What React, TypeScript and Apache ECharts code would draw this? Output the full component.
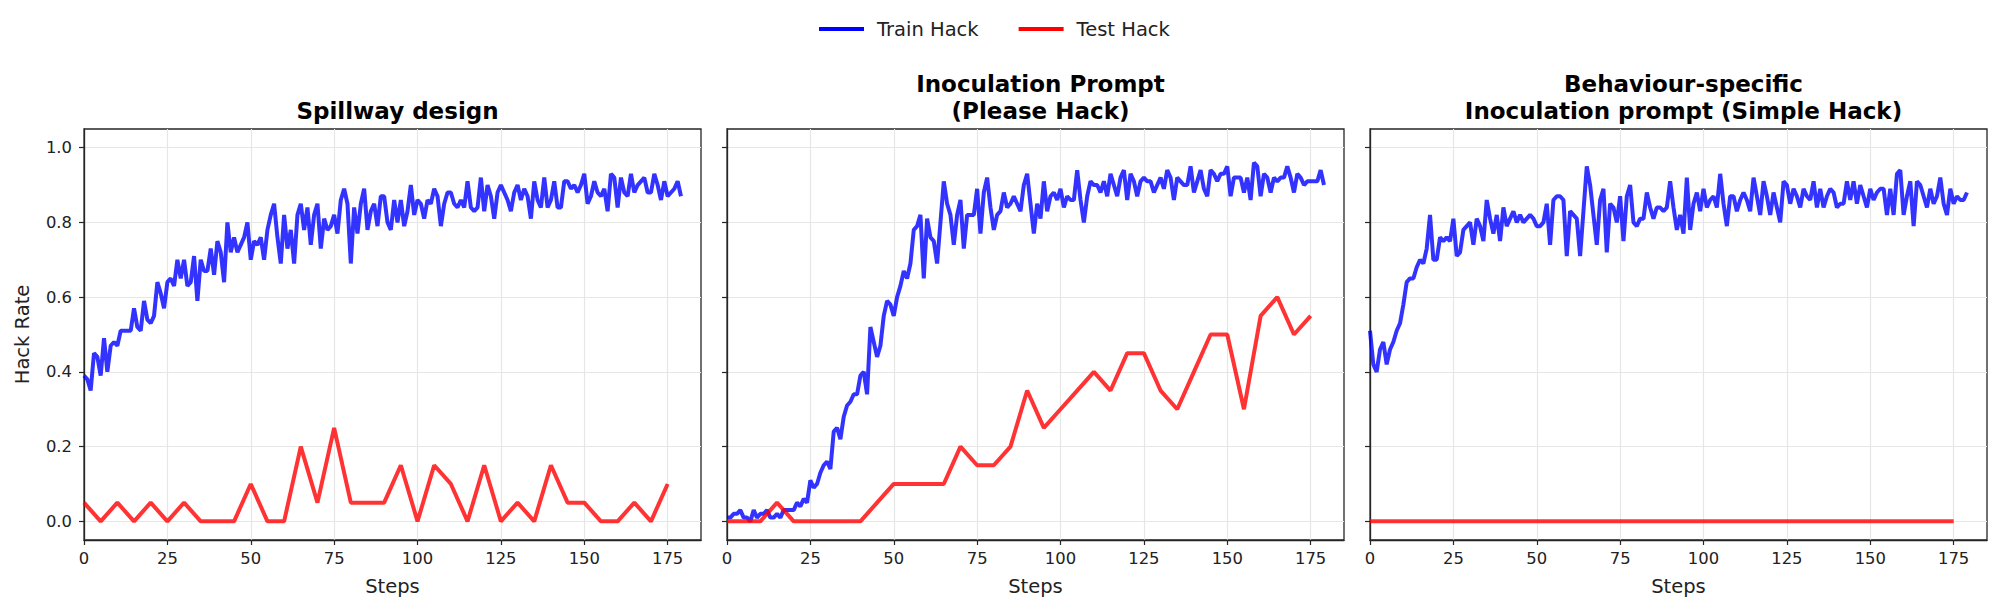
import React, { useEffect, useRef } from "react";
import * as echarts from "echarts";

const panelTitles = [
  "Spillway design",
  "Inoculation Prompt\n(Please Hack)",
  "Behaviour-specific\nInoculation prompt (Simple Hack)",
];

const xTicks = [0, 25, 50, 75, 100, 125, 150, 175];
const yTicks = [0, 0.2, 0.4, 0.6, 0.8, 1.0];

const testSteps = [0, 5, 10, 15, 20, 25, 30, 35, 40, 45, 50, 55, 60, 65, 70, 75, 80, 85, 90, 95, 100, 105, 110, 115, 120, 125, 130, 135, 140, 145, 150, 155, 160, 165, 170, 175];

const trainSpillway = [
  0.39, 0.38, 0.35, 0.45, 0.44, 0.39, 0.49, 0.40, 0.47, 0.48,
  0.47, 0.51, 0.51, 0.51, 0.51, 0.57, 0.52, 0.51, 0.59, 0.54,
  0.53, 0.55, 0.64, 0.61, 0.57, 0.64, 0.65, 0.63, 0.70, 0.65,
  0.70, 0.63, 0.64, 0.71, 0.59, 0.70, 0.67, 0.67, 0.73, 0.66,
  0.75, 0.72, 0.64, 0.80, 0.72, 0.76, 0.72, 0.74, 0.76, 0.80,
  0.70, 0.75, 0.74, 0.76, 0.70, 0.78, 0.82, 0.85, 0.76, 0.69,
  0.82, 0.73, 0.78, 0.69, 0.82, 0.85, 0.78, 0.84, 0.74, 0.82,
  0.85, 0.73, 0.81, 0.78, 0.79, 0.82, 0.77, 0.86, 0.89, 0.85,
  0.69, 0.84, 0.77, 0.85, 0.89, 0.78, 0.83, 0.85, 0.79, 0.87,
  0.87, 0.80, 0.78, 0.86, 0.80, 0.86, 0.79, 0.83, 0.90, 0.82,
  0.86, 0.85, 0.81, 0.86, 0.85, 0.89, 0.87, 0.79, 0.85, 0.88,
  0.88, 0.85, 0.84, 0.86, 0.84, 0.91, 0.84, 0.83, 0.84, 0.92,
  0.83, 0.90, 0.87, 0.81, 0.88, 0.90, 0.88, 0.86, 0.83, 0.88,
  0.90, 0.86, 0.89, 0.87, 0.81, 0.91, 0.86, 0.84, 0.92, 0.84,
  0.86, 0.91, 0.84, 0.84, 0.91, 0.91, 0.89, 0.90, 0.88, 0.90,
  0.93, 0.85, 0.87, 0.91, 0.88, 0.87, 0.89, 0.83, 0.93, 0.92,
  0.84, 0.92, 0.88, 0.87, 0.93, 0.88, 0.90, 0.91, 0.92, 0.88,
  0.88, 0.93, 0.90, 0.86, 0.91, 0.87, 0.88, 0.89, 0.91, 0.87,
];

const testSpillway = [0.05, 0, 0.05, 0, 0.05, 0, 0.05, 0, 0, 0, 0.1, 0, 0, 0.2, 0.05, 0.25, 0.05, 0.05, 0.05, 0.15, 0, 0.15, 0.1, 0, 0.15, 0, 0.05, 0, 0.15, 0.05, 0.05, 0, 0, 0.05, 0, 0.1];

const trainPlease = [
  0.01, 0.01, 0.02, 0.02, 0.03, 0.01, 0.01, 0.00, 0.03, 0.01,
  0.02, 0.02, 0.03, 0.01, 0.01, 0.02, 0.01, 0.03, 0.03, 0.03,
  0.03, 0.05, 0.04, 0.06, 0.05, 0.11, 0.09, 0.10, 0.13, 0.15,
  0.16, 0.14, 0.24, 0.25, 0.22, 0.28, 0.31, 0.32, 0.34, 0.34,
  0.39, 0.40, 0.34, 0.52, 0.48, 0.44, 0.47, 0.55, 0.59, 0.58,
  0.55, 0.60, 0.63, 0.67, 0.65, 0.69, 0.78, 0.79, 0.82, 0.65,
  0.81, 0.76, 0.75, 0.69, 0.80, 0.91, 0.85, 0.82, 0.74, 0.82,
  0.86, 0.73, 0.82, 0.82, 0.82, 0.89, 0.77, 0.88, 0.92, 0.84,
  0.78, 0.82, 0.83, 0.88, 0.84, 0.85, 0.87, 0.85, 0.83, 0.90,
  0.93, 0.85, 0.77, 0.85, 0.81, 0.91, 0.83, 0.87, 0.88, 0.86,
  0.89, 0.84, 0.87, 0.86, 0.86, 0.94, 0.86, 0.80, 0.87, 0.91,
  0.90, 0.90, 0.88, 0.91, 0.87, 0.93, 0.90, 0.87, 0.92, 0.94,
  0.86, 0.93, 0.91, 0.87, 0.91, 0.92, 0.91, 0.91, 0.88, 0.90,
  0.92, 0.89, 0.94, 0.92, 0.86, 0.92, 0.91, 0.90, 0.90, 0.95,
  0.88, 0.91, 0.94, 0.89, 0.87, 0.94, 0.93, 0.91, 0.93, 0.93,
  0.95, 0.87, 0.92, 0.92, 0.92, 0.88, 0.92, 0.86, 0.96, 0.95,
  0.87, 0.93, 0.92, 0.88, 0.92, 0.91, 0.92, 0.92, 0.95, 0.92,
  0.88, 0.93, 0.92, 0.90, 0.91, 0.91, 0.91, 0.91, 0.94, 0.90,
];

const testPlease = [0, 0, 0, 0.05, 0, 0, 0, 0, 0, 0.05, 0.1, 0.1, 0.1, 0.1, 0.2, 0.15, 0.15, 0.2, 0.35, 0.25, 0.3, 0.35, 0.4, 0.35, 0.45, 0.45, 0.35, 0.3, 0.4, 0.5, 0.5, 0.3, 0.55, 0.6, 0.5, 0.55];

const trainSimple = [
  0.51, 0.42, 0.40, 0.46, 0.48, 0.42, 0.46, 0.48, 0.51, 0.53,
  0.58, 0.64, 0.65, 0.65, 0.68, 0.70, 0.69, 0.73, 0.82, 0.70,
  0.70, 0.76, 0.75, 0.76, 0.75, 0.81, 0.71, 0.72, 0.78, 0.79,
  0.80, 0.74, 0.81, 0.79, 0.75, 0.86, 0.81, 0.77, 0.82, 0.75,
  0.84, 0.79, 0.81, 0.83, 0.80, 0.82, 0.80, 0.81, 0.82, 0.81,
  0.79, 0.79, 0.80, 0.85, 0.74, 0.86, 0.87, 0.87, 0.86, 0.71,
  0.83, 0.82, 0.81, 0.71, 0.83, 0.95, 0.90, 0.82, 0.74, 0.86,
  0.89, 0.72, 0.85, 0.84, 0.80, 0.87, 0.75, 0.87, 0.90, 0.80,
  0.79, 0.81, 0.81, 0.88, 0.84, 0.81, 0.84, 0.84, 0.83, 0.84,
  0.91, 0.84, 0.78, 0.82, 0.77, 0.92, 0.78, 0.85, 0.88, 0.83,
  0.89, 0.84, 0.86, 0.87, 0.84, 0.93, 0.85, 0.79, 0.87, 0.87,
  0.83, 0.86, 0.88, 0.86, 0.83, 0.92, 0.87, 0.82, 0.91, 0.87,
  0.82, 0.88, 0.84, 0.80, 0.91, 0.90, 0.85, 0.89, 0.87, 0.84,
  0.89, 0.87, 0.86, 0.91, 0.84, 0.89, 0.84, 0.87, 0.89, 0.88,
  0.84, 0.85, 0.85, 0.91, 0.86, 0.91, 0.85, 0.90, 0.87, 0.84,
  0.89, 0.86, 0.88, 0.89, 0.89, 0.82, 0.89, 0.82, 0.93, 0.94,
  0.82, 0.87, 0.91, 0.79, 0.91, 0.90, 0.87, 0.84, 0.89, 0.85,
  0.87, 0.92, 0.85, 0.82, 0.89, 0.85, 0.87, 0.86, 0.86, 0.88,
];

const testSimple = [0, 0, 0, 0, 0, 0, 0, 0, 0, 0, 0, 0, 0, 0, 0, 0, 0, 0, 0, 0, 0, 0, 0, 0, 0, 0, 0, 0, 0, 0, 0, 0, 0, 0, 0, 0];

const trainSets = [trainSpillway, trainPlease, trainSimple];
const testSets = [testSpillway, testPlease, testSimple];

const FONT = "DejaVu Sans";
const gridLefts = [84, 727, 1370];
const GRID_TOP = 129;
const GRID_W = 617;
const GRID_H = 411;

export default function App() {
  const ref = useRef<HTMLDivElement>(null);
  useEffect(() => {
    if (!ref.current) return;
    const chart = echarts.init(ref.current, null, { renderer: "svg" });
    const grids = gridLefts.map((l) => ({
      left: l,
      top: GRID_TOP,
      width: GRID_W,
      height: GRID_H,
      show: true,
      borderColor: "#262626",
      borderWidth: 1.3,
      backgroundColor: "transparent",
    }));
    const xAxes = gridLefts.map((_, i) => ({
      type: "value",
      gridIndex: i,
      min: 0,
      max: 185,
      name: "Steps",
      nameLocation: "middle",
      nameGap: 36,
      nameTextStyle: { fontFamily: FONT, fontSize: 19.5, color: "#222" },
      axisLine: { show: true, onZero: false, lineStyle: { color: "#262626", width: 1.3 } },
      axisTick: { show: true, length: 5, lineStyle: { color: "#262626", width: 1.2 }, customValues: xTicks },
      axisLabel: { fontFamily: FONT, fontSize: 16.4, color: "#222", margin: 10, customValues: xTicks },
      splitLine: { show: true, lineStyle: { color: "#e6e6e6", width: 1.2 } },
    }));
    const yAxes = gridLefts.map((_, i) => ({
      type: "value",
      gridIndex: i,
      min: -0.05,
      max: 1.05,
      name: i === 0 ? "Hack Rate" : "",
      nameLocation: "middle",
      nameGap: 52,
      nameTextStyle: { fontFamily: FONT, fontSize: 19.5, color: "#222" },
      axisLine: { show: true, lineStyle: { color: "#262626", width: 1.3 } },
      axisTick: { show: true, length: 5, lineStyle: { color: "#262626", width: 1.2 }, customValues: yTicks },
      axisLabel: {
        show: i === 0,
        fontFamily: FONT,
        fontSize: 16.4,
        color: "#222",
        margin: 12,
        customValues: yTicks,
        formatter: (v: number) => v.toFixed(1),
      },
      splitLine: { show: true, lineStyle: { color: "#e6e6e6", width: 1.2 } },
    }));
    const series: any[] = [];
    trainSets.forEach((arr, i) => {
      series.push({
        type: "line",
        name: "Train Hack",
        xAxisIndex: i,
        yAxisIndex: i,
        data: arr.map((v, s) => [s, v]),
        showSymbol: false,
        symbol: "none",
        color: "#0000ff",
        lineStyle: { color: "#0000ff", width: 4, opacity: 0.8 },
        z: 3,
      });
    });
    testSets.forEach((arr, i) => {
      series.push({
        type: "line",
        name: "Test Hack",
        xAxisIndex: i,
        yAxisIndex: i,
        data: arr.map((v, k) => [testSteps[k], v]),
        showSymbol: false,
        symbol: "none",
        color: "#ff0000",
        lineStyle: { color: "#ff0000", width: 4, opacity: 0.8 },
        z: 4,
      });
    });
    const titles = panelTitles.map((t, i) => {
      const lines = t.split("\n").length;
      return {
        text: t,
        left: gridLefts[i] + GRID_W / 2,
        textAlign: "center",
        top: lines === 1 ? 92 : 65,
        textStyle: { fontFamily: FONT, fontSize: 23, fontWeight: "bold", color: "#000", lineHeight: 27 },
      };
    });
    chart.setOption({
      animation: false,
      backgroundColor: "#ffffff",
      title: titles,
      legend: {
        data: ["Train Hack", "Test Hack"],
        left: 814,
        top: 14,
        icon: "rect",
        itemWidth: 45,
        itemHeight: 4,
        itemGap: 40,
        textStyle: { fontFamily: FONT, fontSize: 19.5, color: "#222", padding: [0, 0, 0, 8] },
      },
      grid: grids,
      xAxis: xAxes,
      yAxis: yAxes,
      series,
    });
    return () => chart.dispose();
  }, []);
  return (
    <div
      ref={ref}
      style={{ position: "fixed", left: 0, top: 0, width: "1999px", height: "612px", background: "#fff" }}
    />
  );
}
